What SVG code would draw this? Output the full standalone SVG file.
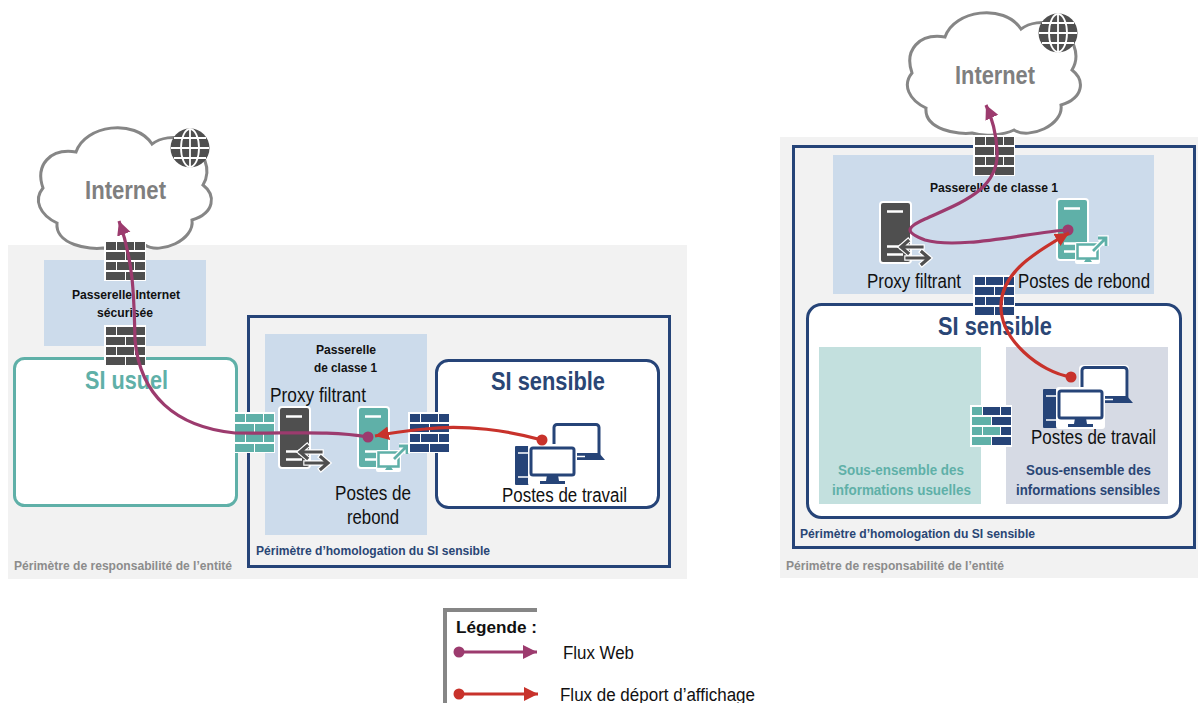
<svg xmlns="http://www.w3.org/2000/svg" xmlns:xlink="http://www.w3.org/1999/xlink" width="1198" height="703" viewBox="0 0 1198 703">
<style>
text{font-family:"Liberation Sans",Arial,sans-serif;fill:#111}
.b{font-weight:700}
.sm{font-size:12.5px;font-weight:700}
.lab{font-size:20px}
.big{font-size:26px;font-weight:700}
.inet{fill:#7f7f7f}
.navy{fill:#2a4675}
.teal{fill:#5fb0a8}
.grey{fill:#8c8c8c}
.zone{fill:#ccdbeb}
.bg{fill:#f2f2f2}
.web{fill:none;stroke:#9c3b6e;stroke-width:3.2}
.red{fill:none;stroke:#c8322b;stroke-width:3.2}
.dk{fill:#4f4f4f}.tl{fill:#5fb0a8}.nv{fill:#264478}
</style>
<defs>
<marker id="aw" markerUnits="userSpaceOnUse" markerWidth="16" markerHeight="16" refX="14" refY="7" orient="auto"><path d="M0 0L14 7L0 14Z" fill="#9c3b6e"/></marker>
<marker id="ar" markerUnits="userSpaceOnUse" markerWidth="16" markerHeight="16" refX="14" refY="7" orient="auto"><path d="M0 0L14 7L0 14Z" fill="#c8322b"/></marker>
<marker id="dw" markerUnits="userSpaceOnUse" markerWidth="14" markerHeight="14" refX="7" refY="7"><circle cx="7" cy="7" r="5.5" fill="#9c3b6e"/></marker>
<marker id="dr" markerUnits="userSpaceOnUse" markerWidth="14" markerHeight="14" refX="7" refY="7"><circle cx="7" cy="7" r="5.5" fill="#c8322b"/></marker>
<path id="bricks" d="M1 1h10v8H1zM12 1h17v8H12zM30 1h10v8H30zM1 11h19v8H1zM21 11h19v8H21zM1 21h10v8H1zM12 21h17v8H12zM30 21h10v8H30zM1 31h19v8H1zM21 31h19v8H21z"/>
<g id="cloud"><path d="M76 152C85 125 135 118 152 144C160 138 175 135 185 140C205 150 212 170 203 185C216 195 215 213 192 220C195 240 160 255 145 245C135 250 115 252 103 248C90 250 55 245 57 223C40 215 33 200 43 188C35 165 50 148 76 152Z" fill="#fff" stroke="#868686" stroke-width="3"/></g>
<g id="globe"><circle r="19.5" fill="#4f4f4f"/><g fill="none" stroke="#fff" stroke-width="1.8"><ellipse rx="9" ry="19"/><path d="M0-19V19M-19 0H19M-16-10H16M-16 10H16"/></g></g>
<g id="serverbase"><rect width="31" height="61" rx="3" stroke="#fff" stroke-width="2"/><path d="M7 9.500H23M7 44.500H21M7 52.500H23" stroke="#fff" stroke-width="2.500" fill="none"/></g>
<g id="proxy"><use href="#serverbase" class="dk"/><g fill="none" stroke-linecap="square"><path d="M42 45H22M28 39L21 45L28 51M27 56H48M42 50L49 56L42 62" stroke="#fff" stroke-width="5.500"/><path d="M42 45H22M28 39L21 45L28 51M27 56H48M42 50L49 56L42 62" stroke="#4f4f4f" stroke-width="3.200"/></g></g>
<g id="rebond"><use href="#serverbase" class="tl"/><rect x="18" y="43" width="25" height="22" fill="#fff" rx="2"/><rect x="20.500" y="45.500" width="20" height="14" fill="#fff" stroke="#5fb0a8" stroke-width="2.500"/><path d="M27 63H35L33 60H29Z" fill="#5fb0a8"/><path d="M36 52L48 40M41 39H49V47" fill="none" stroke="#fff" stroke-width="5.500"/><path d="M36 52L48 40M41 39H49V47" fill="none" stroke="#5fb0a8" stroke-width="2.800"/></g>
<g id="work"><rect x="36" y="-1" width="50" height="38" rx="4" fill="#fff"/><rect x="39" y="1.500" width="45" height="33" rx="3" fill="#fff" stroke="#264478" stroke-width="3"/><path d="M62 30H84L90 37H62Z" fill="#264478"/><path d="M62 33.500H70" stroke="#fff" stroke-width="1.500"/><rect x="0" y="23" width="18" height="39" rx="1" fill="#264478"/><path d="M3 30H15M3 54H15" stroke="#fff" stroke-width="1.500"/><rect x="13" y="21" width="49" height="42" fill="#fff" rx="3"/><rect x="16" y="25" width="43" height="27" rx="2" fill="#fff" stroke="#264478" stroke-width="3"/><path d="M32 52H43L44 58H50V61H25V58H31Z" fill="#264478"/></g>
</defs>

<g id="backgrounds">
<rect class="bg" x="8" y="245" width="679" height="334"/>
<rect class="bg" x="780" y="137" width="418" height="441"/>
</g>

<g id="left-internet"><use href="#cloud"/><use href="#globe" x="190" y="148"/><text class="inet b" x="85" y="199" font-size="26" textLength="81" lengthAdjust="spacingAndGlyphs">Internet</text></g>
<g id="left-gateway"><rect class="zone" x="44" y="260" width="162" height="86"/><text class="sm" x="72" y="299" textLength="108" lengthAdjust="spacingAndGlyphs">Passerelle Internet</text><text class="sm" x="97" y="317" textLength="56" lengthAdjust="spacingAndGlyphs">sécurisée</text></g>
<g id="left-si-usuel"><rect x="14.500" y="358.500" width="222" height="147" rx="10" fill="#fff" stroke="#5fb0a8" stroke-width="3"/><text class="big teal" x="85" y="389" textLength="83" lengthAdjust="spacingAndGlyphs">SI usuel</text></g>
<g id="left-perimeter"><text class="sm grey" x="14" y="570" textLength="218" lengthAdjust="spacingAndGlyphs">Périmètre de responsabilité de l’entité</text></g>
<g id="left-homologation"><rect x="248.500" y="316.500" width="421" height="250" fill="none" stroke="#264478" stroke-width="3"/><text class="sm navy" x="256" y="555" textLength="234" lengthAdjust="spacingAndGlyphs">Périmètre d’homologation du SI sensible</text></g>
<g id="left-classe1"><rect class="zone" x="265" y="334" width="162" height="201"/><text class="sm" x="316" y="354" textLength="60" lengthAdjust="spacingAndGlyphs">Passerelle</text><text class="sm" x="314" y="372" textLength="63" lengthAdjust="spacingAndGlyphs">de classe 1</text></g>
<g id="left-si-sensible"><rect x="436.500" y="360.500" width="222" height="147" rx="12" fill="#fff" stroke="#264478" stroke-width="3"/><text class="big navy" x="491" y="390" textLength="114" lengthAdjust="spacingAndGlyphs">SI sensible</text></g>
<g id="left-proxy"><use href="#proxy" x="279" y="407"/><text class="lab" x="270" y="402" textLength="96" lengthAdjust="spacingAndGlyphs">Proxy filtrant</text></g>
<g id="left-rebond"><use href="#rebond" x="358" y="407"/><text class="lab" x="335" y="500" textLength="76" lengthAdjust="spacingAndGlyphs">Postes de</text><text class="lab" x="347" y="524" textLength="52" lengthAdjust="spacingAndGlyphs">rebond</text></g>
<g id="left-postes"><use href="#work" x="515" y="423"/><text class="lab" x="502" y="502" textLength="125" lengthAdjust="spacingAndGlyphs">Postes de travail</text></g>
<g id="left-fw1"><rect x="104" y="240" width="42" height="41" fill="#fff"/><use href="#bricks" x="105" y="241" class="dk"/></g>
<g id="left-fw2"><rect x="104" y="325" width="42" height="41" fill="#fff"/><use href="#bricks" x="105" y="326" class="dk"/></g>
<g id="left-fw3"><rect x="233" y="412" width="42" height="41" fill="#fff"/><use href="#bricks" x="234" y="413" class="tl"/></g>
<g id="left-fw4"><rect x="408" y="412" width="42" height="41" fill="#fff"/><use href="#bricks" x="409" y="413" class="nv"/></g>

<g id="right-homologation"><rect x="793.500" y="146.500" width="401" height="401" fill="none" stroke="#264478" stroke-width="3"/><text class="sm navy" x="800" y="538" textLength="235" lengthAdjust="spacingAndGlyphs">Périmètre d’homologation du SI sensible</text></g>
<g id="right-perimeter"><text class="sm grey" x="786" y="570" textLength="218" lengthAdjust="spacingAndGlyphs">Périmètre de responsabilité de l’entité</text></g>
<g id="right-classe1"><rect class="zone" x="833" y="155" width="321" height="139"/><text class="sm" x="930" y="192" textLength="128" lengthAdjust="spacingAndGlyphs">Passerelle de classe 1</text></g>
<g id="right-si-sensible"><rect x="807.500" y="304.500" width="373" height="213" rx="14" fill="#fff" stroke="#264478" stroke-width="3"/><text class="big navy" x="938" y="335" textLength="114" lengthAdjust="spacingAndGlyphs">SI sensible</text></g>
<g id="right-usuelles"><rect x="819" y="347" width="162" height="157" fill="#c3e0de"/><text class="sm teal" x="838" y="475" textLength="126" lengthAdjust="spacingAndGlyphs" style="font-size:14px">Sous-ensemble des</text><text class="sm teal" x="832" y="495" textLength="139" lengthAdjust="spacingAndGlyphs" style="font-size:14px">informations usuelles</text></g>
<g id="right-sensibles"><rect x="1006" y="347" width="162" height="157" fill="#d6dae4"/><text class="sm navy" x="1026" y="475" textLength="125" lengthAdjust="spacingAndGlyphs" style="font-size:14px">Sous-ensemble des</text><text class="sm navy" x="1016" y="495" textLength="144" lengthAdjust="spacingAndGlyphs" style="font-size:14px">informations sensibles</text></g>
<g id="right-internet"><g transform="translate(869 -115)"><use href="#cloud"/></g><use href="#globe" x="1058" y="33"/><text class="inet b" x="955" y="84" font-size="26" textLength="80" lengthAdjust="spacingAndGlyphs">Internet</text></g>
<g id="right-proxy"><use href="#proxy" x="880" y="202"/><text class="lab" x="867" y="288" textLength="94" lengthAdjust="spacingAndGlyphs">Proxy filtrant</text></g>
<g id="right-rebond"><use href="#rebond" x="1057" y="199"/><text class="lab" x="1018" y="288" textLength="132" lengthAdjust="spacingAndGlyphs">Postes de rebond</text></g>
<g id="right-postes"><use href="#work" x="1043" y="366"/><text class="lab" x="1031" y="444" textLength="125" lengthAdjust="spacingAndGlyphs">Postes de travail</text></g>
<g id="right-fw1"><rect x="973" y="135" width="42" height="41" fill="#fff"/><use href="#bricks" x="974" y="136" class="dk"/></g>
<g id="right-fw2"><rect x="973" y="275" width="42" height="41" fill="#fff"/><use href="#bricks" x="974" y="276" class="nv"/></g>
<g id="right-fw3"><rect x="970" y="405" width="42" height="42" fill="#fff"/><path transform="translate(971 406)" class="nv" d="M12 1h17v8H12zM30 1h10v8H30zM21 11h19v8H21zM30 21h10v8H30zM21 31h19v8H21z"/><path transform="translate(971 406)" class="tl" d="M1 1h10v8H1zM1 11h19v8H1zM1 21h10v8H1zM12 21h17v8H12zM1 31h19v8H1z"/></g>

<g id="connectors">
<path class="web" marker-start="url(#dw)" marker-end="url(#aw)" d="M368 437C330 430 285 434 235 433C175 427 140 395 135 340C134 300 134 262 119 221"/>
<path class="red" marker-start="url(#dr)" marker-end="url(#ar)" d="M542 440C510 431 465 424 425 429C405 431 390 433 375 436"/>
<path class="web" marker-start="url(#dw)" marker-end="url(#aw)" d="M1068 230C1030 232 960 250 925 240C905 232 905 228 925 219C960 203 1000 190 997 150C996 130 992 118 986 105"/>
<path class="red" marker-start="url(#dr)" marker-end="url(#ar)" d="M1071 377C1040 372 1000 340 1001 305C1002 270 1040 250 1069 233"/>
</g>

<g id="legend">
<path d="M445 703V610H537" fill="none" stroke="#868686" stroke-width="4"/>
<text class="b" x="456" y="633" font-size="17" textLength="81" lengthAdjust="spacingAndGlyphs">Légende :</text>
<path class="web" marker-start="url(#dw)" marker-end="url(#aw)" d="M459 652H537"/>
<text x="563" y="659" font-size="18" textLength="71" lengthAdjust="spacingAndGlyphs">Flux Web</text>
<path class="red" marker-start="url(#dr)" marker-end="url(#ar)" d="M459 694H538"/>
<text x="560" y="701" font-size="18" textLength="195" lengthAdjust="spacingAndGlyphs">Flux de déport d’affichage</text>
</g>
</svg>
